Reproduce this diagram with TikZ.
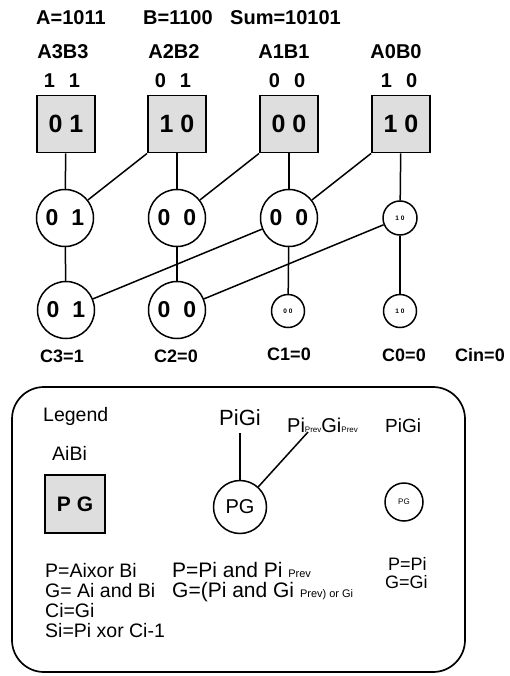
\documentclass[tikz,border=0pt]{standalone}
\usepackage{fontspec}
\setmainfont{Liberation Sans}
\usetikzlibrary{positioning}
\newcommand{\fsz}[1]{\fontsize{#1}{#1}\selectfont}

\begin{document}
\begin{tikzpicture}[x=1pt,y=-1pt,
  pgbox/.style={draw,line width=1.9pt,fill=black!13,minimum width=58pt,minimum height=57pt,inner sep=0pt,font=\fsz{25}\bfseries},
  bignd/.style={draw,circle,line width=1.5pt,minimum size=57pt,inner sep=0pt,font=\fsz{23}\bfseries},
  smallnd/.style={draw,circle,line width=1.5pt,minimum size=33pt,inner sep=0pt,font=\fsz{6.5}\bfseries},
  wire/.style={line width=1.5pt},
  hdr/.style={font=\fsz{20}\bfseries,inner sep=0pt,anchor=base},
  lgtxt/.style={font=\fsz{19.5},inner sep=0pt,anchor=base west}]
  \def\gap{\hspace{14pt}}
  \useasboundingbox (0,0) rectangle (509,676);
  % operands and result
  \node[hdr,anchor=base west] (opa) at (36,25) {A=1011};
  \node[hdr,anchor=base west] (opb) at (143,25) {B=1100};
  \node[hdr,anchor=base west] (sum) at (230,25) {Sum=10101};
  % bit 3
  \node[hdr] (n3) at (63,59) {A3B3};
  \node[hdr] (v3) at (62,88) {1\gap1};
  \node[pgbox] (b3) at (66,124) {0 1};
  \node[bignd] (p3) at (65,218) {0\hspace{13pt}1};
  \node[bignd] (q3) at (66,310) {0\hspace{13pt}1};
  \node[hdr,font=\fsz{18}\bfseries] (c3) at (62,362) {C3=1};
  % bit 2
  \node[hdr] (n2) at (174,59) {A2B2};
  \node[hdr] (v2) at (173,88) {0\gap1};
  \node[pgbox] (b2) at (177,124) {1 0};
  \node[bignd] (p2) at (177,218) {0\hspace{13pt}0};
  \node[bignd] (q2) at (177,310) {0\hspace{13pt}0};
  \node[hdr,font=\fsz{18}\bfseries] (c2) at (176,362) {C2=0};
  % bit 1
  \node[hdr] (n1) at (284,59) {A1B1};
  \node[hdr] (v1) at (287,88) {0\gap0};
  \node[pgbox] (b1) at (289,124) {0 0};
  \node[bignd] (p1) at (289,218) {0\hspace{13pt}0};
  \node[smallnd] (q1) at (288,311) {0 0};
  \node[hdr,font=\fsz{18}\bfseries] (c1) at (289,360) {C1=0};
  % bit 0
  \node[hdr] (n0) at (396,59) {A0B0};
  \node[hdr] (v0) at (399,88) {1\gap0};
  \node[pgbox] (b0) at (401,124) {1 0};
  \node[smallnd,minimum size=34pt] (p0) at (400,218) {1 0};
  \node[smallnd] (q0) at (400,311) {1 0};
  \node[hdr,font=\fsz{18}\bfseries] (c0) at (404,361) {C0=0};
  \node[hdr,font=\fsz{18}\bfseries] (cin) at (480,361) {Cin=0};
  % prefix tree wiring
  \draw[wire] (b3) -- (p3);
  \draw[wire] (b2) -- (p2);
  \draw[wire] (b1) -- (p1);
  \draw[wire] (b0) -- (p0);
  \draw[wire] (b2.south west) -- (p3);
  \draw[wire] (b1.south west) -- (p2);
  \draw[wire] (b0.south west) -- (p1);
  \draw[wire] (p3) -- (q3);
  \draw[wire] (p2) -- (q2);
  \draw[wire] (p1) -- (q1);
  \draw[wire] (p0) -- (q0);
  \draw[wire] (p1) -- (q3);
  \draw[wire] (p0) -- (q2);
  % legend
  \draw[line width=1.7pt,rounded corners=32pt] (12,387) rectangle (465,672);
  \node[lgtxt] (lgt) at (43,421) {Legend};
  \node[lgtxt] (lgab) at (52,460) {AiBi};
  \node[pgbox,minimum width=60pt,minimum height=58pt,font=\fsz{21}\bfseries] (lgbox) at (75,504) {P\hspace{6pt}G};
  \node[lgtxt,anchor=base,font=\fsz{22}] (lgpg) at (240,425) {PiGi};
  \node[lgtxt,font=\fsz{20}] (lgprev) at (287,432) {Pi{\fsz{8}Prev}Gi{\fsz{8}Prev}};
  \node[lgtxt,font=\fsz{19}] (lgpg2) at (385,432) {PiGi};
  \node[draw,circle,line width=1.5pt,minimum size=53pt,inner sep=0pt,font=\fsz{20}] (lgbig) at (240,507) {PG};
  \node[draw,circle,line width=1.5pt,minimum size=38pt,inner sep=0pt,font=\fsz{8}] (lgsmall) at (404,502) {PG};
  \coordinate (prevtip) at (308,432);
  \draw[wire,shorten <=8pt] (lgpg) -- (lgbig);
  \draw[wire] (prevtip) -- (lgbig);
  % legend equations
  \node[lgtxt] (e1) at (45,577) {P=Aixor Bi};
  \node[lgtxt] (e2) at (45,597) {G= Ai and Bi};
  \node[lgtxt] (e3) at (45,617) {Ci=Gi};
  \node[lgtxt] (e4) at (45,637) {Si=Pi xor Ci-1};
  \node[lgtxt,font=\fsz{21}] (f1) at (172,577) {P=Pi and Pi {\fsz{11}Prev}};
  \node[lgtxt,font=\fsz{21}] (f2) at (172,597) {G=(Pi and Gi {\fsz{11}Prev) or Gi}};
  \node[lgtxt,font=\fsz{18}] (g1) at (388,570) {P=Pi};
  \node[lgtxt,font=\fsz{18}] (g2) at (385,588) {G=Gi};
\end{tikzpicture}
\end{document}
